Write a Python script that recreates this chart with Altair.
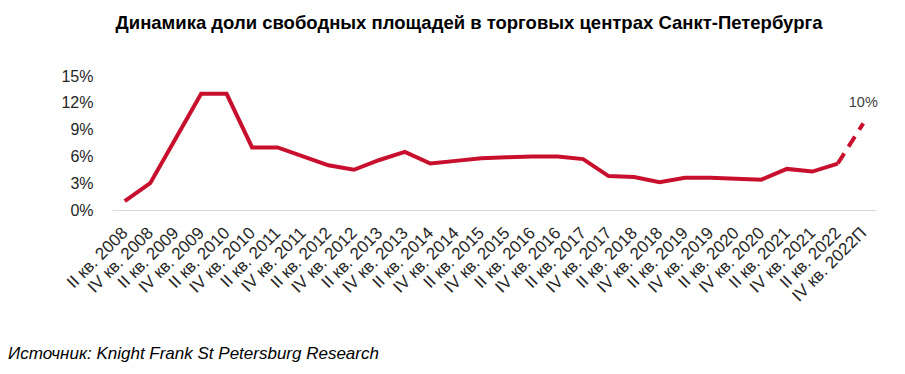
import altair as alt
import pandas as pd

categories = [
    "II кв. 2008", "IV кв. 2008", "II кв. 2009", "IV кв. 2009", "II кв. 2010",
    "IV кв. 2010", "II кв. 2011", "IV кв. 2011", "II кв. 2012", "IV кв. 2012",
    "II кв. 2013", "IV кв. 2013", "II кв. 2014", "IV кв. 2014", "II кв. 2015",
    "IV кв. 2015", "II кв. 2016", "IV кв. 2016", "II кв. 2017", "IV кв. 2017",
    "II кв. 2018", "IV кв. 2018", "II кв. 2019", "IV кв. 2019", "II кв. 2020",
    "IV кв. 2020", "II кв. 2021", "IV кв. 2021", "II кв. 2022", "IV кв. 2022П",
]
values = [
    1.0, 3.0, 8.0, 13.0, 13.0,
    7.0, 7.0, 6.0, 5.0, 4.5,
    5.6, 6.5, 5.2, 5.5, 5.8,
    5.9, 6.0, 6.0, 5.7, 3.8,
    3.7, 3.1, 3.6, 3.6, 3.5,
    3.4, 4.6, 4.3, 5.2, 9.7,
]
y_ticks = [0, 3, 6, 9, 12, 15]
title_text = "Динамика доли свободных площадей в торговых центрах Санкт-Петербурга"
source_text = "Источник: Knight Frank St Petersburg Research"
label_index = [29]

df = pd.DataFrame({"cat": categories, "val": values})
df_solid = df.iloc[:29]
df_dash = df.iloc[28:30]
df_label = df.iloc[label_index]

RED = "#C8102E"
FONT = "Liberation Sans"

x_enc = alt.X(
    "cat:N", sort=categories,
    scale=alt.Scale(type="point", padding=0.5),
    axis=alt.Axis(
        title=None, labelAngle=-45, labelAlign="right", labelBaseline="middle",
        labelFontSize=17, labelFont=FONT, labelColor="#262626",
        labelPadding=20, ticks=False, domainColor="#d9d9d9", domainWidth=1,
        labelOverlap=False,
    ),
)
y_enc = alt.Y(
    "val:Q",
    scale=alt.Scale(domain=[0, 15], nice=False),
    axis=alt.Axis(
        title=None, values=y_ticks, labelExpr="datum.value + '%'",
        labelFontSize=16, labelFont=FONT, labelColor="#262626",
        labelPadding=19, ticks=False, domain=False, grid=False,
    ),
)

solid = alt.Chart(df_solid).mark_line(color=RED, strokeWidth=4, strokeJoin="miter").encode(x=x_enc, y=y_enc)
dash = alt.Chart(df_dash).mark_line(color=RED, strokeWidth=4, strokeDash=[12, 8]).encode(x=x_enc, y=y_enc)
label = alt.Chart(df_label).transform_calculate(
    lbl="format(datum.val, '.0f') + '%'"
).mark_text(
    dy=-20, fontSize=14.5, font=FONT, color="#404040"
).encode(x=x_enc, y=y_enc, text="lbl:N")

source = alt.Chart(pd.DataFrame({"t": [source_text]})).mark_text(
    align="left", baseline="alphabetic", fontSize=17, font=FONT, fontStyle="italic", color="#000000"
).encode(x=alt.value(-104), y=alt.value(283), text="t:N")

chart = alt.layer(solid, dash, label, source).properties(
    width=764, height=134,
    autosize=alt.AutoSizeParams(type="none"),
    padding={"left": 104, "top": 68, "right": 21, "bottom": 162},
    title=alt.TitleParams(
        title_text, font=FONT, fontSize=18.5, fontWeight="bold", color="#000000",
        anchor="middle", dx=-25, offset=36,
    ),
).configure_view(stroke=None)

chart.save("out.html", embed_options={"renderer": "svg", "actions": False})
